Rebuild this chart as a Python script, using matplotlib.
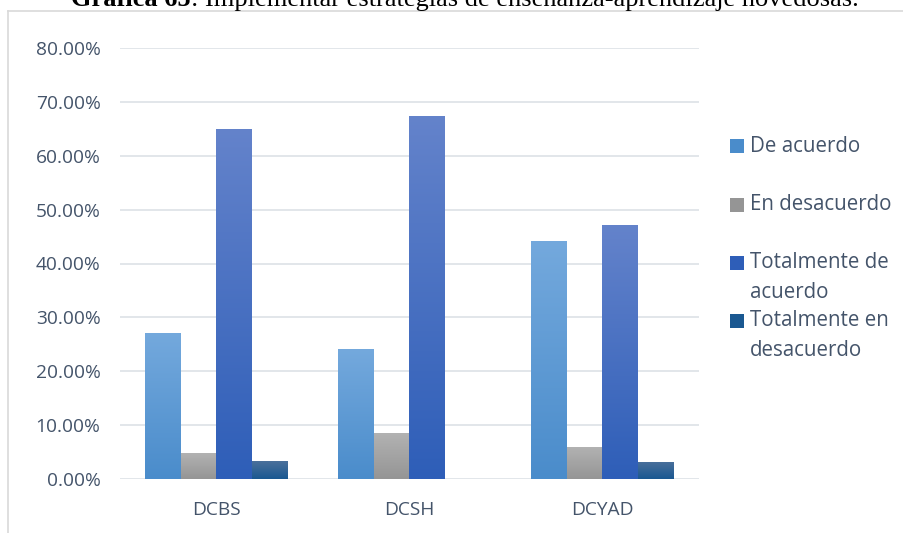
import numpy as np
import matplotlib
matplotlib.use('Agg')
import matplotlib.pyplot as plt
from matplotlib.colors import LinearSegmentedColormap
from matplotlib.patches import Rectangle
from matplotlib.lines import Line2D

# datos
categorias = ['DCBS', 'DCSH', 'DCYAD']
series = ['De acuerdo', 'En desacuerdo', 'Totalmente de\nacuerdo', 'Totalmente en\ndesacuerdo']
de_acuerdo = [0.271, 0.241, 0.442]
en_desacuerdo = [0.048, 0.085, 0.059]
tot_de_acuerdo = [0.650, 0.674, 0.471]
tot_en_desacuerdo = [0.033, 0.0, 0.032]
valores = [de_acuerdo, en_desacuerdo, tot_de_acuerdo, tot_en_desacuerdo]
yticks = [0, 0.1, 0.2, 0.3, 0.4, 0.5, 0.6, 0.7, 0.8]

# (abajo, arriba) de cada degradado
colores = [('#4a8ccb', '#74a9dd'),
           ('#959595', '#b2b2b2'),
           ('#2e5eb8', '#6483cb'),
           ('#1a5891', '#4b709b')]
texto = '#44546a'
rejilla = '#dde1e6'
fuente = 'Open Sans'

W, H = 904, 533
fig = plt.figure(figsize=(W / 100, H / 100), dpi=100)
ax = fig.add_axes([120 / W, (H - 479) / H, (699 - 120) / W, (479 - 48) / H])

ancho = 0.184
x = np.arange(len(categorias))
for k, vals in enumerate(valores):
    bars = ax.bar(x + (k - 1.5) * ancho, vals, ancho, color=colores[k][0], zorder=2)
    cmap = LinearSegmentedColormap.from_list('g%d' % k, list(colores[k]))
    for b in bars:
        if b.get_height() <= 0:
            continue
        grad = np.linspace(1, 0, 256).reshape(-1, 1)
        im = ax.imshow(grad, extent=[b.get_x(), b.get_x() + b.get_width(), 0, b.get_height()],
                       aspect='auto', cmap=cmap, vmin=0, vmax=1, zorder=3, origin='upper')
        im.set_clip_path(b)

ax.set_xlim(-0.5, 2.5)
ax.set_ylim(0, 0.8)
ax.set_yticks(yticks)
ax.set_yticklabels(['%.2f%%' % (v * 100) for v in yticks])
ax.set_xticks(x)
ax.set_xticklabels(categorias)
ax.grid(axis='y', color=rejilla, linewidth=1.2, zorder=0)
ax.set_axisbelow(True)
for s in ax.spines.values():
    s.set_visible(False)
ax.tick_params(length=0, labelsize=13.8, labelcolor=texto)
ax.tick_params(axis='y', pad=14)
ax.tick_params(axis='x', pad=16)
for lab in ax.get_xticklabels() + ax.get_yticklabels():
    lab.set_fontfamily(fuente)

# leyenda manual (una línea de texto por renglón)
ley_y = [146, 205, 263, 321]
paso = 29
for k, nombre in enumerate(series):
    yc = ley_y[k]
    fig.patches.append(Rectangle((730 / W, 1 - (yc + 7) / H), 14 / W, 14 / H,
                                 transform=fig.transFigure, facecolor=colores[k][0],
                                 edgecolor='none'))
    for j, linea in enumerate(nombre.split('\n')):
        fig.text(750 / W, 1 - (yc + j * paso) / H, linea, fontsize=14.8, color=texto,
                 family=fuente, va='center')

# marco
fig.add_artist(Line2D([8 / W, 8 / W], [0, 1 - 11 / H], transform=fig.transFigure,
                      color='#d9d9d9', linewidth=1.2))
fig.add_artist(Line2D([8 / W, 1], [1 - 11 / H, 1 - 11 / H], transform=fig.transFigure,
                      color='#d9d9d9', linewidth=1.2))

# título (cortado arriba, como en la original)
r = fig.canvas.get_renderer()
t1 = fig.text(71 / W, 1 - 6 / H, 'Gráfica 65', fontsize=19, fontweight='bold',
              family='Liberation Serif', va='baseline')
bb = t1.get_window_extent(r)
fig.text(bb.x1 / W, 1 - 6 / H, ': Implementar estrategias de enseñanza-aprendizaje novedosas.',
         fontsize=19, family='Liberation Serif', va='baseline')

fig.savefig('out.png', dpi=100)
